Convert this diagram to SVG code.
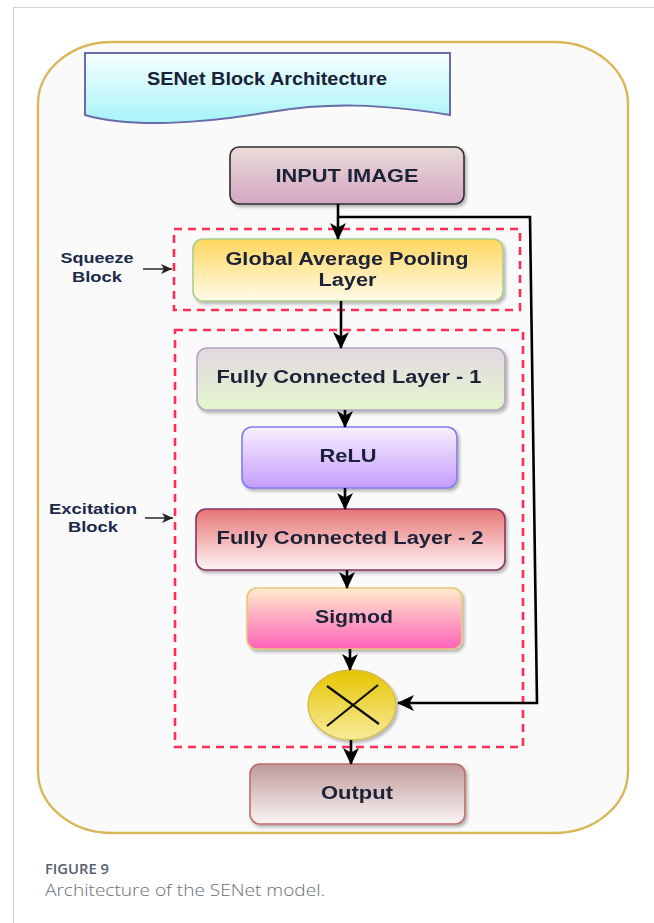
<svg xmlns="http://www.w3.org/2000/svg" width="654" height="923" viewBox="0 0 654 923">
  <style>
    .lbl { font-family: "Liberation Sans", Arial, sans-serif; font-weight: bold; fill: #1b2238; text-anchor: middle; }
    .side { font-family: "Liberation Sans", Arial, sans-serif; font-weight: bold; fill: #1b2a4a; text-anchor: middle; font-size: 14px; }
    .dash { fill: none; stroke: #ff2d55; stroke-width: 2.6; stroke-dasharray: 8 6; }
    .wire { fill: none; stroke: #000; stroke-width: 2.6; }
    .thin { fill: none; stroke: #333; stroke-width: 1.6; }
    .cap1 { font-family: "Open Sans", sans-serif; font-weight: 600; font-size: 14px; fill: #56606c; }
    .cap2 { font-family: "Open Sans", sans-serif; font-weight: 300; font-size: 16px; fill: #6a6f76; }
  </style>
  <defs>
    <linearGradient id="gBanner" x1="0" y1="0" x2="0" y2="1"><stop offset="0" stop-color="#f6ffff"/><stop offset="1" stop-color="#a6f4f8"/></linearGradient>
    <linearGradient id="gInput" x1="0" y1="0" x2="0" y2="1"><stop offset="0" stop-color="#ebdcd8"/><stop offset="1" stop-color="#d3a6c3"/></linearGradient>
    <linearGradient id="gGap" x1="0" y1="0" x2="0" y2="1"><stop offset="0" stop-color="#ffd75e"/><stop offset="1" stop-color="#fffbea"/></linearGradient>
    <linearGradient id="gFc1" x1="0" y1="0" x2="0" y2="1"><stop offset="0" stop-color="#e2d8e2"/><stop offset="1" stop-color="#e4f7cc"/></linearGradient>
    <linearGradient id="gRelu" x1="0" y1="0" x2="0" y2="1"><stop offset="0" stop-color="#f8f0ff"/><stop offset="1" stop-color="#c59cff"/></linearGradient>
    <linearGradient id="gFc2" x1="0" y1="0" x2="0" y2="1"><stop offset="0" stop-color="#e77575"/><stop offset="1" stop-color="#fff4f4"/></linearGradient>
    <linearGradient id="gSig" x1="0" y1="0" x2="0" y2="1"><stop offset="0" stop-color="#ffeccc"/><stop offset="1" stop-color="#ff62b8"/></linearGradient>
    <linearGradient id="gMul" x1="0" y1="0" x2="0" y2="1"><stop offset="0" stop-color="#e6c400"/><stop offset="1" stop-color="#f7ec9c"/></linearGradient>
    <linearGradient id="gOut" x1="0" y1="0" x2="0" y2="1"><stop offset="0" stop-color="#bf9a9a"/><stop offset="1" stop-color="#fbf4f4"/></linearGradient>
    <filter id="shadow" x="-10%" y="-10%" width="130%" height="140%">
      <feDropShadow dx="2" dy="2.5" stdDeviation="1.8" flood-color="#000" flood-opacity="0.28"/>
    </filter>
    <marker id="arrow" markerUnits="userSpaceOnUse" markerWidth="18" markerHeight="18" viewBox="0 0 18 18" refX="16" refY="9" orient="auto">
      <path d="M0,1 L17,9 L0,17 L4.5,9 Z" fill="#000"/>
    </marker>
    <marker id="arrowS" markerUnits="userSpaceOnUse" markerWidth="12" markerHeight="12" viewBox="0 0 12 12" refX="11" refY="6" orient="auto">
      <path d="M0,1 L11,6 L0,11 L3,6 Z" fill="#222"/>
    </marker>
  </defs>

  <!-- page frame -->
  <rect x="0" y="0" width="654" height="923" fill="#ffffff"/>
  <path d="M13,7.5 H654 M13.5,7 V923" fill="none" stroke="#d2d2d2" stroke-width="1.2"/>

  <!-- outer panel -->
  <rect id="panel" x="38" y="42" width="590" height="791" rx="74" ry="62" fill="#fafafa" stroke="#d9b758" stroke-width="2.4"/>

  <!-- title banner -->
  <g id="title">
    <path d="M85,53 H450 V115 C380,104 330,102 270,112 C200,124 130,128 85,115 Z" fill="url(#gBanner)" stroke="#6b6ba8" stroke-width="2"/>
    <text class="lbl" x="267" y="85" font-size="19" textLength="240" lengthAdjust="spacingAndGlyphs">SENet Block Architecture</text>
  </g>

  <!-- block regions -->
  <g id="squeeze-region">
    <rect class="dash" x="174" y="229" width="346" height="81"/>
  </g>
  <g id="excitation-region">
    <rect class="dash" x="175" y="330" width="348" height="417"/>
  </g>

  <!-- side labels -->
  <g id="squeeze-label">
    <text class="side" x="97" y="263" textLength="73" lengthAdjust="spacingAndGlyphs">Squeeze</text>
    <text class="side" x="97" y="282" textLength="50" lengthAdjust="spacingAndGlyphs">Block</text>
  </g>
  <g id="excitation-label">
    <text class="side" x="93" y="514" textLength="88" lengthAdjust="spacingAndGlyphs">Excitation</text>
    <text class="side" x="93" y="532" textLength="50" lengthAdjust="spacingAndGlyphs">Block</text>
  </g>

  <!-- nodes -->
  <g id="input-image" filter="url(#shadow)">
    <rect x="230" y="147" width="234" height="57" rx="9" fill="url(#gInput)" stroke="#2e2e2e" stroke-width="1.6"/>
    <text class="lbl" x="347" y="182" font-size="18" textLength="143" lengthAdjust="spacingAndGlyphs">INPUT IMAGE</text>
  </g>
  <g id="gap-layer" filter="url(#shadow)">
    <rect x="193" y="239" width="310" height="62" rx="10" fill="url(#gGap)" stroke="#a9cf8e" stroke-width="1.6"/>
    <text class="lbl" x="347" y="265" font-size="18" textLength="243" lengthAdjust="spacingAndGlyphs">Global Average Pooling</text>
    <text class="lbl" x="347.5" y="286" font-size="18" textLength="58" lengthAdjust="spacingAndGlyphs">Layer</text>
  </g>
  <g id="fc-1" filter="url(#shadow)">
    <rect x="197" y="348" width="308" height="62" rx="10" fill="url(#gFc1)" stroke="#b9a2c2" stroke-width="1.6"/>
    <text class="lbl" x="349" y="383" font-size="18" textLength="265" lengthAdjust="spacingAndGlyphs">Fully Connected Layer - 1</text>
  </g>
  <g id="relu" filter="url(#shadow)">
    <rect x="242" y="427" width="215" height="61" rx="10" fill="url(#gRelu)" stroke="#7f7cf6" stroke-width="1.6"/>
    <text class="lbl" x="348" y="462" font-size="18" textLength="57" lengthAdjust="spacingAndGlyphs">ReLU</text>
  </g>
  <g id="fc-2" filter="url(#shadow)">
    <rect x="196" y="509" width="309" height="61" rx="10" fill="url(#gFc2)" stroke="#8a3262" stroke-width="1.6"/>
    <text class="lbl" x="350" y="544" font-size="18" textLength="267" lengthAdjust="spacingAndGlyphs">Fully Connected Layer - 2</text>
  </g>
  <g id="sigmod" filter="url(#shadow)">
    <rect x="247" y="588" width="215" height="61" rx="10" fill="url(#gSig)" stroke="#e8c77c" stroke-width="1.6"/>
    <text class="lbl" x="354" y="623" font-size="18" textLength="78" lengthAdjust="spacingAndGlyphs">Sigmod</text>
  </g>
  <g id="multiply" filter="url(#shadow)">
    <ellipse cx="352" cy="705" rx="44" ry="35" fill="url(#gMul)" stroke="#d6bb4c" stroke-width="1.4"/>
    <path d="M327,686 L379,724 M378,685 L327,726" fill="none" stroke="#111" stroke-width="2.2"/>
  </g>
  <g id="output" filter="url(#shadow)">
    <rect x="250" y="764" width="215" height="60" rx="10" fill="url(#gOut)" stroke="#c46b6b" stroke-width="1.6"/>
    <text class="lbl" x="357" y="799" font-size="18" textLength="72" lengthAdjust="spacingAndGlyphs">Output</text>
  </g>

  <!-- connectors -->
  <g id="connectors">
    <line class="wire" x1="338" y1="204" x2="338" y2="239" marker-end="url(#arrow)"/>
    <path class="wire" d="M338,217 H530 L537,703 H398" marker-end="url(#arrow)"/>
    <line class="wire" x1="341" y1="301" x2="341" y2="348" marker-end="url(#arrow)"/>
    <line class="wire" x1="345" y1="410" x2="345" y2="427" marker-end="url(#arrow)"/>
    <line class="wire" x1="345" y1="488" x2="345" y2="509" marker-end="url(#arrow)"/>
    <line class="wire" x1="347" y1="570" x2="347" y2="588" marker-end="url(#arrow)"/>
    <line class="wire" x1="350" y1="649" x2="350" y2="670" marker-end="url(#arrow)"/>
    <line class="wire" x1="351" y1="740" x2="351" y2="764" marker-end="url(#arrow)"/>
    <line class="thin" x1="143" y1="269" x2="172" y2="269" marker-end="url(#arrowS)"/>
    <line class="thin" x1="145" y1="518" x2="173" y2="518" marker-end="url(#arrowS)"/>
  </g>

  <!-- caption -->
  <text class="cap1" x="45" y="874" textLength="64" lengthAdjust="spacingAndGlyphs">FIGURE 9</text>
  <text class="cap2" x="45" y="896" textLength="280" lengthAdjust="spacingAndGlyphs">Architecture of the SENet model.</text>
</svg>
